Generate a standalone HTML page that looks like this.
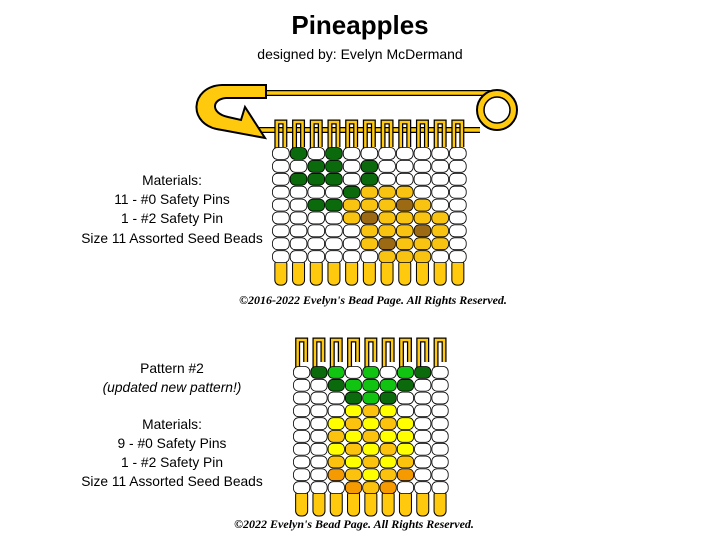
<!DOCTYPE html>
<html><head><meta charset="utf-8"><style>
body{margin:0;background:#fff;width:720px;height:536px;overflow:hidden}
svg{display:block}
</style></head><body>
<svg width="720" height="536" xmlns="http://www.w3.org/2000/svg" font-family="Liberation Sans, sans-serif">
<text x="360" y="34" font-size="26" font-weight="bold" text-anchor="middle">Pineapples</text>
<text x="360" y="59" font-size="14" text-anchor="middle">designed by:  Evelyn McDermand</text>
<g font-size="13.8" text-anchor="middle" fill="#000">
<text x="172" y="185">Materials:</text>
<text x="172" y="204">11 - #0 Safety Pins</text>
<text x="172" y="223">1 -  #2 Safety Pin</text>
<text x="172" y="243">Size 11 Assorted Seed Beads</text>
<text x="172" y="373">Pattern #2</text>
<text x="172" y="392" font-style="italic">(updated new pattern!)</text>
<text x="172" y="429">Materials:</text>
<text x="172" y="448">9 - #0 Safety Pins</text>
<text x="172" y="467">1 -  #2 Safety Pin</text>
<text x="172" y="486">Size 11 Assorted Seed Beads</text>
</g>
<g font-family="Liberation Serif, serif" font-size="12" font-style="italic" font-weight="bold" text-anchor="middle">
<text x="373" y="304">©2016-2022  Evelyn's Bead Page. All Rights Reserved.</text>
<text x="354" y="528">©2022  Evelyn's Bead Page. All Rights Reserved.</text>
</g>
<!-- big safety pin -->
<path d="M262,93 L490,93 M250,130 L480,130" stroke="#000" stroke-width="6"/>
<path d="M262,93 L490,93 M250,130 L480,130" stroke="#ffc90e" stroke-width="3.5"/>
<path d="M266,85 L222,85 C190,86 186,126 222,130 L265,138 L245,107 L241,120 L228,117 C210,113 212,99 226,98 L266,98 Z" fill="#ffc90e" stroke="#000" stroke-width="2"/>
<circle cx="497" cy="110" r="20" fill="#ffc90e" stroke="#000" stroke-width="2"/>
<circle cx="497" cy="110" r="13" fill="#fff" stroke="#000" stroke-width="1.5"/>
<g id="p1"></g>
<g id="p2"></g>
</svg>
<script>
var C={W:'#fff',G:'#0b6a0b',Y:'#f9c311',B:'#9b6a12',D:'#0b6a0b',L:'#11c411',Y2:'#ffff00',O:'#fcc30e',R:'#f59a00'};
function grid(id,x0,y0,pw,ph,rows,map,topY,topH,botH){
 var s='',n=rows[0].split(' ').length;
 for(var c=0;c<n;c++){var x=x0+c*pw+pw/2;
  var d='M'+(x-4)+','+(y0+4)+' L'+(x-4)+','+topY+' L'+(x+4)+','+topY+' L'+(x+4)+','+(topY+topH);
  s+='<path d="'+d+'" fill="none" stroke="#000" stroke-width="5"/>';
  s+='<path d="'+d+'" fill="none" stroke="#ffc90e" stroke-width="2.5"/>';
  var yb=y0+rows.length*ph;
  s+='<rect x="'+(x-6)+'" y="'+(yb-4)+'" width="12" height="'+(botH+4)+'" rx="5" fill="#ffc90e" stroke="#000" stroke-width="1"/>';
 }
 for(var r=0;r<rows.length;r++){var row=rows[r].split(' ');
  for(var c=0;c<n;c++){
   s+='<rect x="'+(x0+c*pw+0.5)+'" y="'+(y0+r*ph+0.5)+'" width="'+(pw-1)+'" height="'+(ph-1)+'" rx="5" fill="'+map[row[c]]+'" stroke="#000" stroke-width="0.8"/>';
  }}
 document.getElementById(id).innerHTML=s;
}
grid('p1',272,147,17.7,12.9,[
'W G W G W W W W W W W','W W G G W G W W W W W','W G G G W G W W W W W','W W W W G Y Y Y W W W',
'W W G G Y Y Y B Y W W','W W W W Y B Y Y Y Y W','W W W W W Y Y Y B Y W','W W W W W Y B Y Y Y W','W W W W W W Y Y Y W W'
],{W:C.W,G:C.G,Y:C.Y,B:C.B},122,25,22);
grid('p2',293,366,17.3,12.8,[
'W D L W L W L D W','W W D L L L D W W','W W W D L D W W W','W W W Y O Y W W W','W W Y O Y O Y W W',
'W W O Y O Y Y W W','W W Y O Y O Y W W','W W O Y O Y O W W','W W R O Y O R W W','W W W R O R W W W'
],{W:C.W,D:C.D,L:C.L,Y:C.Y2,O:C.O,R:C.R},340,22,22);
</script>
</body></html>
